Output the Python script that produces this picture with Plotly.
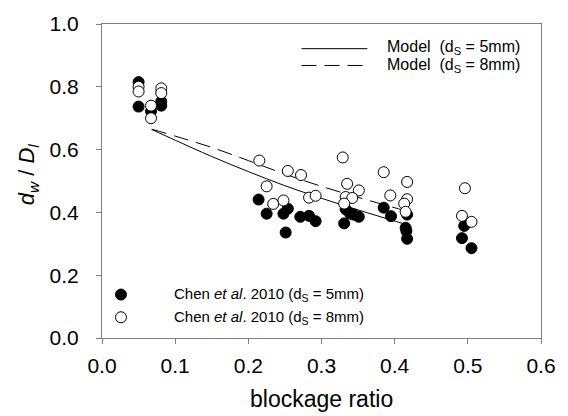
import plotly.graph_objects as go

# Experimental data: Chen et al. 2010, d_S = 5mm (filled)
x_5mm = [0.050, 0.050, 0.067, 0.081, 0.081,
         0.214, 0.225, 0.248, 0.254, 0.251, 0.271, 0.283, 0.292,
         0.331, 0.333, 0.339, 0.351, 0.344,
         0.385, 0.395, 0.417, 0.415, 0.416, 0.417,
         0.495, 0.492, 0.505]
y_5mm = [0.815, 0.737, 0.722, 0.753, 0.740,
         0.441, 0.396, 0.396, 0.412, 0.336, 0.386, 0.389, 0.372,
         0.365, 0.410, 0.396, 0.386, 0.393,
         0.415, 0.388, 0.393, 0.351, 0.341, 0.316,
         0.357, 0.318, 0.286]

# Experimental data: Chen et al. 2010, d_S = 8mm (open)
x_8mm = [0.050, 0.050, 0.067, 0.067, 0.081, 0.081,
         0.215, 0.225, 0.234, 0.248, 0.254, 0.272, 0.283, 0.292,
         0.329, 0.335, 0.351, 0.333, 0.342, 0.331,
         0.385, 0.394, 0.417, 0.417, 0.413, 0.415,
         0.496, 0.492, 0.505]
y_8mm = [0.800, 0.785, 0.740, 0.700, 0.795, 0.780,
         0.565, 0.483, 0.427, 0.438, 0.532, 0.519, 0.447, 0.453,
         0.575, 0.491, 0.470, 0.449, 0.446, 0.428,
         0.528, 0.454, 0.497, 0.442, 0.428, 0.402,
         0.477, 0.389, 0.370]

# Model curves
x_model = [0.068, 0.10, 0.15, 0.20, 0.25, 0.30, 0.35, 0.415]
y_model_5mm = [0.664, 0.630, 0.578, 0.530, 0.485, 0.445, 0.408, 0.362]
y_model_8mm = [0.665, 0.643, 0.607, 0.565, 0.522, 0.483, 0.448, 0.405]

x_ticks = [0.0, 0.1, 0.2, 0.3, 0.4, 0.5, 0.6]
y_ticks = [0.0, 0.2, 0.4, 0.6, 0.8, 1.0]

FONT = "Liberation Sans, Arial, sans-serif"
GRAY = "#7f7f7f"

fig = go.Figure()
fig.add_trace(go.Scatter(x=x_model, y=y_model_5mm, mode="lines",
                         line=dict(color="black", width=1), line_shape="spline",
                         showlegend=False))
fig.add_trace(go.Scatter(x=x_model, y=y_model_8mm, mode="lines",
                         line=dict(color="black", width=1, dash="15px,8px"),
                         line_shape="spline", showlegend=False))
fig.add_trace(go.Scatter(x=x_5mm, y=y_5mm, mode="markers",
                         marker=dict(size=11, color="black",
                                     line=dict(color="black", width=1)),
                         showlegend=False))
fig.add_trace(go.Scatter(x=x_8mm, y=y_8mm, mode="markers",
                         marker=dict(size=11, color="white",
                                     line=dict(color="black", width=1)),
                         showlegend=False))

L, R, T, B = 102, 26, 20, 78
W, H = 568, 416
pw, ph = W - L - R, H - T - B


def px(xp):
    return (xp - L) / pw


def py(yp):
    return (H - B - yp) / ph


shapes = [
    dict(type="line", xref="paper", yref="paper", x0=px(302), x1=px(368),
         y0=py(45), y1=py(45), line=dict(color="black", width=1)),
    dict(type="line", xref="paper", yref="paper", x0=px(302), x1=px(368),
         y0=py(62), y1=py(62), line=dict(color="black", width=1, dash="15px,8px")),
    dict(type="circle", xref="paper", yref="paper", xsizemode="pixel", ysizemode="pixel",
         xanchor=px(121), yanchor=py(294), x0=-5.5, x1=5.5, y0=-5.5, y1=5.5,
         fillcolor="black", line=dict(color="black", width=1)),
    dict(type="circle", xref="paper", yref="paper", xsizemode="pixel", ysizemode="pixel",
         xanchor=px(121), yanchor=py(317), x0=-5.5, x1=5.5, y0=-5.5, y1=5.5,
         fillcolor="white", line=dict(color="black", width=1)),
]

LEG_TOP = dict(size=16, family=FONT, color="black")
LEG_BOT = dict(size=15, family=FONT, color="black")

annotations = [
    dict(text="Model  (d<sub>S</sub> = 5mm)", x=px(386), y=py(44), xref="paper", yref="paper",
         xanchor="left", yanchor="middle", showarrow=False, font=LEG_TOP),
    dict(text="Model  (d<sub>S</sub> = 8mm)", x=px(386), y=py(62), xref="paper", yref="paper",
         xanchor="left", yanchor="middle", showarrow=False, font=LEG_TOP),
    dict(text="Chen <i>et al</i>. 2010 (d<sub>S</sub> = 5mm)", x=px(172), y=py(294), xref="paper", yref="paper",
         xanchor="left", yanchor="middle", showarrow=False, font=LEG_BOT),
    dict(text="Chen <i>et al</i>. 2010 (d<sub>S</sub> = 8mm)", x=px(172), y=py(317), xref="paper", yref="paper",
         xanchor="left", yanchor="middle", showarrow=False, font=LEG_BOT),
    dict(text="blockage ratio", x=px(322), y=py(400), xref="paper", yref="paper",
         xanchor="center", yanchor="middle", showarrow=False, font=dict(size=23, family=FONT, color="black")),
    dict(text="<i>d<sub>w</sub></i> / <i>D<sub>l</sub></i>", x=px(28), y=py(172), xref="paper", yref="paper",
         xanchor="center", yanchor="middle", textangle=-90, showarrow=False,
         font=dict(size=22, family=FONT, color="black")),
]

axis_common = dict(showgrid=False, zeroline=False, showline=True, linecolor=GRAY, linewidth=1,
                   mirror=True, ticks="outside", ticklen=5, tickcolor=GRAY, tickwidth=1,
                   tickfont=dict(size=21, family=FONT, color="black"))

fig.update_layout(
    width=W, height=H,
    margin=dict(l=L, r=R, t=T, b=B),
    paper_bgcolor="white", plot_bgcolor="white",
    xaxis=dict(range=[0, 0.6], tickvals=x_ticks, ticktext=[f"{v:.1f}" for v in x_ticks],
               ticklabelstandoff=4, **axis_common),
    yaxis=dict(range=[0, 1.0], tickvals=y_ticks, ticktext=[f"{v:.1f}" for v in y_ticks],
               ticklabelstandoff=13, **axis_common),
    shapes=shapes, annotations=annotations,
    font=dict(family=FONT),
)

fig.write_html("out.html")
